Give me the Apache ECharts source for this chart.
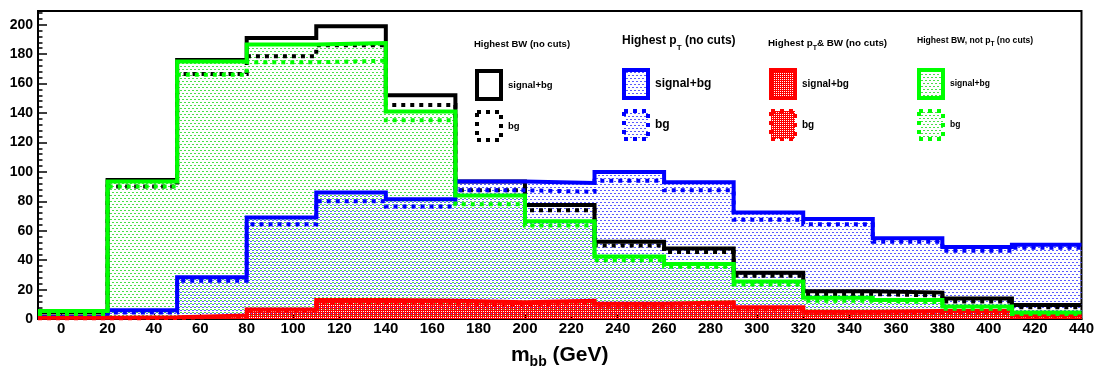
<!DOCTYPE html>
<html><head><meta charset="utf-8">
<script src="https://cdn.jsdelivr.net/npm/echarts@6/dist/echarts.min.js"></script>
<style>html,body{margin:0;padding:0;background:#fff}#c{width:1097px;height:374px}</style>
</head><body><div id="c"></div>
<script>
// ---- data ----
const binEdges = [-10, 20, 50, 80, 110, 140, 170, 200, 230, 260, 290, 320, 350, 380, 410, 440];
const xTickLabels = [0, 20, 40, 60, 80, 100, 120, 140, 160, 180, 200, 220, 240, 260, 280, 300, 320, 340, 360, 380, 400, 420, 440];
const yTickLabels = [0, 20, 40, 60, 80, 100, 120, 140, 160, 180, 200];
const yMinorStep = [0, 4];
const bwSignalBg   = [4.5, 94.5, 176, 191, 199, 152, 93.5, 77.5, 52.5, 48, 31.5, 19, 18, 14, 9.5];
const bwBg         = [2.5, 90, 166.5, 178.5, 186, 145.5, 87.5, 74, 50, 45.5, 29.5, 17, 16, 12, 8];
const ptSignalBg   = [1.5, 6, 28.5, 69, 86, 81.5, 93.5, 92.5, 100, 93, 72.5, 68, 55, 49, 50.5];
const ptBg         = [1, 4.5, 26, 64.5, 80, 76.5, 87.5, 86.5, 94, 87.5, 67.5, 64.5, 52.5, 46.5, 48.5];
const ptBwSignalBg = [1, 1.2, 2.5, 6.5, 13, 12.5, 11.5, 12.5, 10.5, 11.5, 8, 5, 5.5, 5.5, 2.5];
const ptBwBg       = [0.5, 0.8, 2, 5.5, 11, 10.5, 10, 11, 9, 10, 6.5, 4, 4.5, 4.5, 2];
const bwNotPtSignalBg = [5.5, 93.5, 175, 186.5, 187.5, 141, 84, 66.5, 42.5, 37.5, 25.5, 14.5, 13, 8.5, 4.5];
const bwNotPtBg       = [3.5, 90, 166, 174.5, 175.5, 135, 78, 63.5, 40, 35.5, 23.5, 12.5, 11.5, 7, 3.5];
const legendTitles = ['Highest BW (no cuts)', 'Highest p_T (no cuts)', 'Highest p_T& BW (no cuts)', 'Highest BW, not p_T (no cuts)'];
const legendLabels = ['signal+bg', 'bg'];

// ---- helpers ----
function histPoints(vals) {
  return binEdges.map((e, i) => [e, vals[Math.min(i, vals.length - 1)]]);
}
function tileCanvas(w, h, color, rects) {
  const c = document.createElement('canvas');
  c.width = w; c.height = h;
  const ctx = c.getContext('2d');
  ctx.fillStyle = color;
  rects.forEach(r => ctx.fillRect(r[0], r[1], r[2], r[3]));
  return c;
}
const greenTile = tileCanvas(4, 6, '#4ade4a', [[0, 0, 2, 1], [2, 3, 2, 1]]);
const blueTile  = tileCanvas(4, 6, '#5a5aff', [[2, 1, 2, 1], [0, 4, 2, 1]]);
const redTile   = tileCanvas(2, 2, '#ff0000', [[0, 0, 2, 1], [0, 1, 1, 1]]);
const greenPat = { image: greenTile, repeat: 'repeat' };
const bluePat  = { image: blueTile, repeat: 'repeat' };
const redPat   = { image: redTile, repeat: 'repeat' };

function iconURL(color, tile, dashed) {
  const c = document.createElement('canvas');
  c.width = 28; c.height = 32;
  const ctx = c.getContext('2d');
  if (tile) {
    ctx.fillStyle = ctx.createPattern(tile, 'repeat');
    ctx.fillRect(2, 2, 24, 28);
  }
  ctx.strokeStyle = color;
  ctx.lineWidth = 4;
  if (dashed) ctx.setLineDash([4, 5]);
  ctx.strokeRect(2, 2, 24, 28);
  return 'image://' + c.toDataURL();
}

const FONT = 'Liberation Sans, Arial, Helvetica, sans-serif';
const DASH = [4, 5];

function fillSeries(name, vals, pat) {
  return { name: name, type: 'line', step: 'end', data: histPoints(vals), showSymbol: false, symbol: 'none',
    lineStyle: { width: 0, opacity: 0 }, areaStyle: { color: pat, opacity: 1 }, z: 1, silent: true };
}
function lineSeries(name, vals, color, dashed, z) {
  return { name: name, type: 'line', step: 'end', data: histPoints(vals), showSymbol: false, symbol: 'none',
    itemStyle: { color: color },
    lineStyle: { color: color, width: 4, type: dashed ? DASH : 'solid', join: 'miter', cap: 'butt' }, z: z, silent: true };
}

const series = [
  fillSeries('_f1', ptSignalBg, bluePat), fillSeries('_f2', ptBg, bluePat),
  fillSeries('_f3', bwNotPtSignalBg, greenPat), fillSeries('_f4', bwNotPtBg, greenPat),
  fillSeries('_f5', ptBwSignalBg, redPat), fillSeries('_f6', ptBwBg, redPat),
  lineSeries('BW|signal+bg', bwSignalBg, '#000000', false, 3),
  lineSeries('BW|bg', bwBg, '#000000', true, 3),
  lineSeries('PT|signal+bg', ptSignalBg, '#0000ff', false, 4),
  lineSeries('PT|bg', ptBg, '#0000ff', true, 4),
  lineSeries('PTBW|signal+bg', ptBwSignalBg, '#ff0000', false, 5),
  lineSeries('PTBW|bg', ptBwBg, '#ff0000', true, 5),
  lineSeries('NOTPT|signal+bg', bwNotPtSignalBg, '#00ff00', false, 6),
  lineSeries('NOTPT|bg', bwNotPtBg, '#00ff00', true, 6)
];

function legend(key, color, tile, left, top, fontSize) {
  return {
    orient: 'vertical', left: left, top: top, padding: 0, itemGap: 9, itemWidth: 28, itemHeight: 32,
    selectedMode: false, align: 'left',
    formatter: n => n.split('|')[1],
    textStyle: { fontFamily: FONT, fontWeight: 'bold', fontSize: fontSize, color: '#000' },
    data: [
      { name: key + '|' + legendLabels[0], icon: iconURL(color, tile, false) },
      { name: key + '|' + legendLabels[1], icon: iconURL(color, tile, true) }
    ]
  };
}

function richTitle(txt, left, top, fs, sfs, pad) {
  const parts = txt.split('_T');
  let text;
  if (parts.length > 1) text = '{a|' + parts[0] + '}{s|T}{a|' + parts[1] + '}';
  else text = '{a|' + txt + '}';
  return {
    text: text, left: left, top: top, padding: 0,
    textStyle: {
      fontFamily: FONT, fontWeight: 'bold', fontSize: fs, color: '#000',
      rich: {
        a: { fontFamily: FONT, fontWeight: 'bold', fontSize: fs, lineHeight: fs + 2, color: '#000' },
        s: { fontFamily: FONT, fontWeight: 'bold', fontSize: sfs, lineHeight: sfs, padding: [pad, 0, 0, 0], color: '#000' }
      }
    }
  };
}

const chart = echarts.init(document.getElementById('c'), null, { renderer: 'canvas' });
chart.setOption({
  animation: false,
  backgroundColor: '#fff',
  title: [
    richTitle(legendTitles[0], 474, 39, 9.5, 7, 0),
    richTitle(legendTitles[1], 622, 34, 12, 8, 14),
    richTitle(legendTitles[2], 768, 37, 9.8, 7, 10),
    richTitle(legendTitles[3], 917, 35, 8.6, 6.5, 8)
  ],
  legend: [
    legend('BW', '#000000', null, 475, 69, 9.5),
    legend('PT', '#0000ff', blueTile, 622, 68, 12),
    legend('PTBW', '#ff0000', redTile, 769, 68, 10),
    legend('NOTPT', '#00ff00', greenTile, 917, 68, 8.5)
  ],
  grid: { left: 38, right: 15, top: 11, bottom: 49, show: true, borderColor: '#000', borderWidth: 2, backgroundColor: 'transparent' },
  xAxis: {
    type: 'value', min: binEdges[0], max: binEdges[binEdges.length - 1],
    axisLine: { show: true, onZero: false, lineStyle: { color: '#000', width: 2 } },
    axisTick: { show: true, inside: true, length: 5, customValues: xTickLabels, lineStyle: { color: '#000', width: 1 } },
    axisLabel: { customValues: xTickLabels, margin: 2, fontFamily: FONT, fontWeight: 'bold', fontSize: 15, color: '#000' },
    splitLine: { show: false },
    name: '{m|m}{s|bb}{m| (GeV)}', nameLocation: 'middle', nameGap: 13,
    nameTextStyle: {
      rich: {
        m: { fontFamily: FONT, fontWeight: 'bold', fontSize: 21, lineHeight: 22, color: '#000' },
        s: { fontFamily: FONT, fontWeight: 'bold', fontSize: 14, lineHeight: 14, padding: [14, 0, 0, 0], color: '#000' }
      }
    }
  },
  yAxis: [
    {
      type: 'value', min: 0, max: 209.3, interval: 20, position: 'left',
      axisLine: { show: true, onZero: false, lineStyle: { color: '#000', width: 2 } },
      axisTick: { show: true, inside: true, length: 9, customValues: yTickLabels, lineStyle: { color: '#000', width: 1.5 } },
      axisLabel: { customValues: yTickLabels, margin: 5, fontFamily: FONT, fontWeight: 'bold', fontSize: 14, color: '#000' },
      splitLine: { show: false }
    },
    {
      type: 'value', min: 0, max: 209.3, interval: yMinorStep[1] - yMinorStep[0], position: 'left',
      axisLine: { show: false, onZero: false },
      axisTick: { show: true, inside: true, length: 4.5, lineStyle: { color: '#000', width: 1.5 } },
      axisLabel: { show: false },
      splitLine: { show: false }
    }
  ],
  series: series
});
</script>
</body></html>
